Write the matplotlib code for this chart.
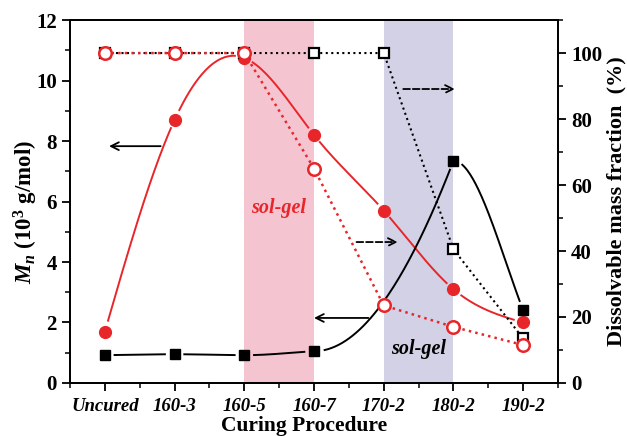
import matplotlib
matplotlib.use("Agg")
import matplotlib.pyplot as plt
import numpy as np
from matplotlib.ticker import MultipleLocator

plt.rcParams['font.family'] = ['Liberation Serif', 'DejaVu Serif']
plt.rcParams['font.weight'] = 'bold'
plt.rcParams['axes.labelweight'] = 'bold'
plt.rcParams['mathtext.fontset'] = 'custom'
plt.rcParams['mathtext.rm'] = 'Liberation Serif:bold'
plt.rcParams['mathtext.it'] = 'Liberation Serif:italic:bold'
plt.rcParams['mathtext.bf'] = 'Liberation Serif:bold'

procedures = ['Uncured', '160-3', '160-5', '160-7', '170-2', '180-2', '190-2']

# Mn of the soluble part (10^3 g/mol), left axis
mn_red = [1.7, 8.7, 10.75, 8.2, 5.7, 3.1, 2.0]
mn_black_idx = [0, 1, 2, 3, 5, 6]
mn_black = [0.92, 0.95, 0.92, 1.05, 7.35, 2.4]
# end slopes of each segment of the black curve (sharp rise into the peak)
mn_black_slopes = [(0.03, 0.0), (0.0, -0.01), (-0.01, 0.13), (0.0, 6.0), (0.0, -6.0)]

# dissolvable mass fraction (%), right axis
frac_black = [100, 100, 100, 100, 100, 40.5, 13.5]
frac_red = [100, 100, 100, 65, 23.5, 17, 11.5]

RED = '#e8262a'
PX_X, PX_Y = 69.5, 30.25  # pixels per data unit, used for line gaps


def natural_spline(x, y, n=400):
    x = np.asarray(x, float)
    y = np.asarray(y, float)
    k = len(x)
    h = np.diff(x)
    A = np.zeros((k, k))
    r = np.zeros(k)
    A[0, 0] = A[-1, -1] = 1
    for i in range(1, k - 1):
        A[i, i - 1] = h[i - 1]
        A[i, i] = 2 * (h[i - 1] + h[i])
        A[i, i + 1] = h[i]
        r[i] = 6 * ((y[i + 1] - y[i]) / h[i] - (y[i] - y[i - 1]) / h[i - 1])
    m = np.linalg.solve(A, r)
    xs = np.linspace(x[0], x[-1], n)
    j = np.clip(np.searchsorted(x, xs) - 1, 0, k - 2)
    t0 = x[j + 1] - xs
    t1 = xs - x[j]
    hj = h[j]
    ys = (m[j] * t0**3 + m[j + 1] * t1**3) / (6 * hj) \
        + (y[j] / hj - m[j] * hj / 6) * t0 + (y[j + 1] / hj - m[j + 1] * hj / 6) * t1
    return xs, ys


def hermite(x, y, slopes, n=80):
    xs_all, ys_all = [], []
    for i, (m0, m1) in enumerate(slopes):
        h = x[i + 1] - x[i]
        t = np.linspace(0, 1, n)
        ys = ((2 * t**3 - 3 * t**2 + 1) * y[i] + (t**3 - 2 * t**2 + t) * h * m0
              + (-2 * t**3 + 3 * t**2) * y[i + 1] + (t**3 - t**2) * h * m1)
        xs_all.append(x[i] + t * h)
        ys_all.append(ys)
    return np.concatenate(xs_all), np.concatenate(ys_all)


def gapped(ax, x, y, xs, ys, gap=9, **kw):
    # hide the curve close to each marker
    ys = ys.copy()
    for px, py in zip(x, y):
        d = np.hypot((xs - px) * PX_X, (ys - py) * PX_Y)
        ys[d < gap] = np.nan
    ax.plot(xs, ys, **kw)


fig = plt.figure(figsize=(6.27, 4.36), dpi=100)
ax = fig.add_axes([0.1117, 0.1216, 0.7783, 0.8324])
ax2 = ax.twinx()

xi = np.arange(len(procedures))

ax.axvspan(2, 3, color='#f5c4d1', lw=0, zorder=0)
ax.axvspan(4, 5, color='#d3d1e5', lw=0, zorder=0)

xs, ys = natural_spline(xi, mn_red)
gapped(ax, xi, mn_red, xs, ys, color=RED, lw=1.4)
ax.plot(xi, mn_red, 'o', color=RED, ms=8.5, zorder=5)

bx = np.array(mn_black_idx)
xs, ys = hermite(bx, mn_black, mn_black_slopes)
gapped(ax, bx, mn_black, xs, ys, color='black', lw=1.4)
ax.plot(bx, mn_black, 's', color='black', ms=7.5, zorder=5)

ax2.plot(xi, frac_black, ':', color='black', lw=1.5, marker='s', ms=7.5,
         mfc='white', mec='black', mew=1.6)
ax2.plot(xi, frac_red, ':', color=RED, lw=1.8, marker='o', ms=9,
         mfc='white', mec=RED, mew=1.8)

# arrows pointing to the axis each curve belongs to
arrow = dict(arrowstyle='->', color='black', lw=1.3, mutation_scale=14)
ax.annotate('', xy=(0.02, 7.83), xytext=(0.84, 7.83), arrowprops=arrow)
ax.annotate('', xy=(2.96, 2.15), xytext=(3.82, 2.15), arrowprops=arrow)
darrow = dict(arrowstyle='->', color='black', lw=1.3, ls='--', mutation_scale=14)
ax.annotate('', xy=(5.06, 9.72), xytext=(4.24, 9.72), arrowprops=darrow)
ax.annotate('', xy=(4.24, 4.66), xytext=(3.57, 4.66), arrowprops=darrow)

ax.text(2.49, 5.78, 'sol-gel', color=RED, fontsize=14.5, style='italic',
        weight='bold', ha='center', va='center')
ax.text(4.5, 1.12, 'sol-gel', color='black', fontsize=14.5, style='italic',
        weight='bold', ha='center', va='center')

ax.set_xlim(-0.5, 6.5)
ax.set_ylim(0, 12)
ax2.set_ylim(0, 110)

ax.set_xticks(xi)
ax.set_xticklabels(procedures, style='italic', fontsize=13.5)
ax.xaxis.set_minor_locator(MultipleLocator(0.5))
ax.yaxis.set_major_locator(MultipleLocator(2))
ax.yaxis.set_minor_locator(MultipleLocator(1))
ax2.yaxis.set_major_locator(MultipleLocator(20))
ax2.yaxis.set_minor_locator(MultipleLocator(10))

for a in (ax, ax2):
    a.tick_params(which='major', direction='out', length=6, width=1.3, labelsize=15)
    a.tick_params(which='minor', direction='out', length=3.5, width=1.1)
    for s in a.spines.values():
        s.set_linewidth(1.3)
ax.tick_params(axis='x', labelsize=13.5, pad=5)

ax.set_ylabel(r'$M_n$ (10$^3$ g/mol)', fontsize=16.5)
ax.yaxis.set_label_coords(-0.062, 0.47)
ax2.set_ylabel('Dissolvable mass fraction  (%)', fontsize=16, labelpad=3)
ax.set_xlabel('Curing Procedure', fontsize=15.5)
ax.xaxis.set_label_coords(0.48, -0.09)

fig.savefig('out.png', dpi=100)
